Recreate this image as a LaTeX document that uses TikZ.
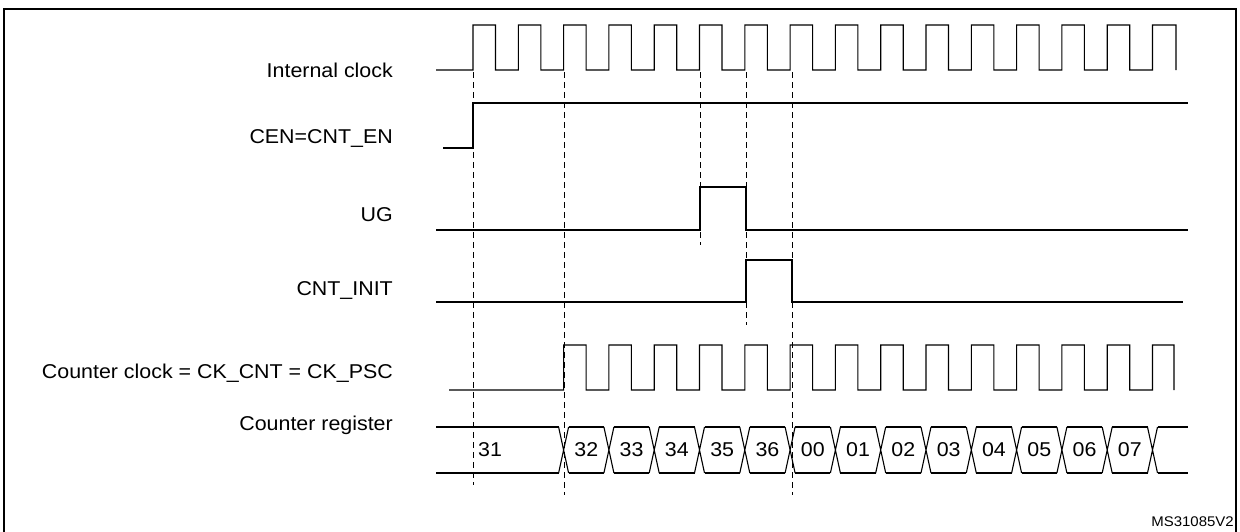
\documentclass[tikz,border=0pt]{standalone}
\usepackage{fontspec}
\setmainfont{Liberation Sans}[FakeStretch=1.07]
\begin{document}
\begin{tikzpicture}[x=1pt,y=-1pt,
  sig/.style={line width=1.1pt},
  lbl/.style={anchor=east,font=\fontsize{20}{24}\selectfont,inner sep=0pt},
  val/.style={font=\fontsize{20}{24}\selectfont,inner sep=0pt},
  dsh/.style={line width=0.9pt,dash pattern=on 6pt off 4pt}]
\useasboundingbox (0,0) rectangle (1240,531);
\draw[line width=1.6pt] (4,540) -- (4,9) -- (1236,9) -- (1236,540);
% labels
\node[lbl] (l1) at (393,70) {Internal clock};
\node[lbl] (l2) at (393,138) {CEN=CNT\_EN};
\node[lbl] (l3) at (393,215) {UG};
\node[lbl] (l4) at (393,290) {CNT\_INIT};
\node[lbl] (l5) at (393,373) {Counter clock = CK\_CNT = CK\_PSC};
\node[lbl] (l6) at (393,425) {Counter register};
% internal clock
\draw[sig] (436,70) -- (473,70)
  \foreach \k in {0,...,14} { -- ({473+45.3*\k},70) -- ({473+45.3*\k},25) -- ({495.5+45.3*\k},25) -- ({495.5+45.3*\k},70) -- ({518.3+45.3*\k},70) }
  -- (1152.5,25) -- (1176,25) -- (1176,70);
% CEN
\draw[sig] (443,148) -- (473,148) -- (473,103) -- (1188,103);
% UG
\draw[sig] (436,230) -- (700,230) -- (700,187) -- (746,187) -- (746,230) -- (1188,230);
% CNT_INIT
\draw[sig] (436,302) -- (746,302) -- (746,260) -- (792,260) -- (792,302) -- (1183,302);
% counter clock
\draw[sig] (449,390) -- (563.6,390)
  \foreach \k in {2,...,14} { -- ({473+45.3*\k},390) -- ({473+45.3*\k},345) -- ({495.5+45.3*\k},345) -- ({495.5+45.3*\k},390) -- ({518.3+45.3*\k},390) }
  -- (1152.5,345) -- (1174,345) -- (1174,390);
% counter register
\def\xs{{436,563.6,608.9,654.2,699.5,744.8,790.1,835.4,880.7,926,971.3,1016.6,1061.9,1107.2,1152.5}}
\draw[sig] (436,427) -- (558.6,427);
\draw[sig] (436,473) -- (558.6,473);
\foreach \i in {1,...,13}{
  \pgfmathsetmacro\a{\xs[\i]}\pgfmathsetmacro\b{\xs[\i+1]}
  \draw[sig] (\a-5,427) -- (\a+5,473) (\a-5,473) -- (\a+5,427);
  \draw[sig] (\a+5,427) -- (\b-5,427) (\a+5,473) -- (\b-5,473);
}
\draw[sig] (1147.5,427) -- (1157.5,473) (1147.5,473) -- (1157.5,427);
\draw[sig] (1157.5,427) -- (1188,427) (1157.5,473) -- (1188,473);
\node[val] (v31) at (490,450) {31};
\foreach \t [count=\i from 1] in {32,33,34,35,36,00,01,02,03,04,05,06,07}{
  \pgfmathsetmacro\a{\xs[\i]}\pgfmathsetmacro\b{\xs[\i+1]}
  \node[val] (v\i) at ({(\a+\b)/2},450) {\t};
}
% dashed markers
\draw[dsh] (473,72) -- (473,485);
\draw[dsh] (564.5,72) -- (564.5,495);
\draw[dsh] (700,72) -- (700,245);
\draw[dsh] (746,72) -- (746,325);
\draw[dsh] (792,72) -- (792,495);
\node[anchor=south east,font=\fontsize{14}{16}\selectfont,inner sep=0pt] (ms) at (1234,527) {MS31085V2};
\end{tikzpicture}
\end{document}
